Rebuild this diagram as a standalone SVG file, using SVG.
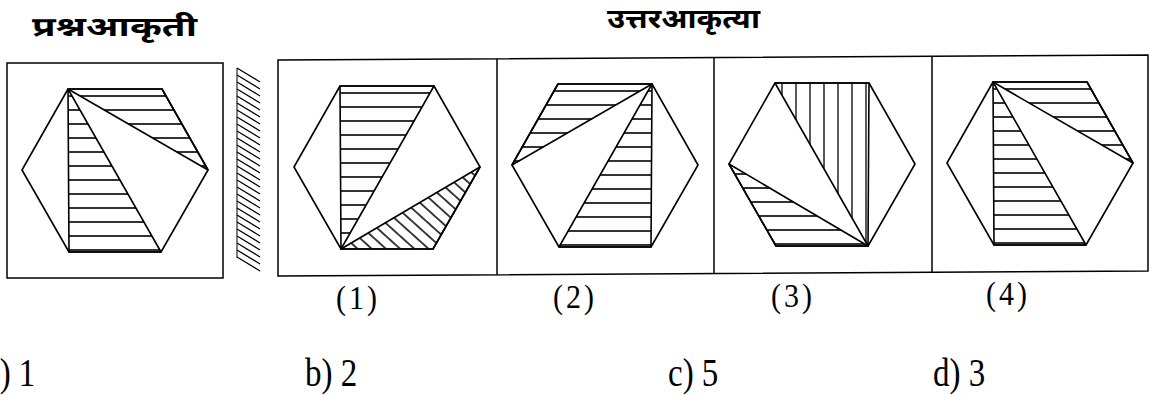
<svg xmlns="http://www.w3.org/2000/svg" width="1151" height="395" viewBox="0 0 1151 395">
<style>
.frame{fill:none;stroke:#000;stroke-width:1.5}
.hex{fill:none;stroke:#000;stroke-width:1.6;stroke-linejoin:round}
.tri{stroke:#000;stroke-width:1.6;stroke-linejoin:round}
.h{fill:url(#hH)}
.v{fill:url(#hV)}
.d{fill:url(#hD)}
.title{font-family:"Noto Sans Devanagari","Lohit Devanagari","Noto Sans",sans-serif;font-weight:bold;font-size:27px;fill:#000}
.num{font-family:"Liberation Serif","Times New Roman",serif;font-size:30px;letter-spacing:3px;fill:#000}
.ans{font-family:"Liberation Serif","Times New Roman",serif;font-size:33px;fill:#000}
</style>
<defs>
<pattern id="hH" patternUnits="userSpaceOnUse" width="20" height="14"><line x1="0" y1="7" x2="20" y2="7" stroke="#000" stroke-width="1.6"/></pattern>
<pattern id="hV" patternUnits="userSpaceOnUse" width="14" height="20"><line x1="7" y1="0" x2="7" y2="20" stroke="#000" stroke-width="1.3"/></pattern>
<pattern id="hD" patternUnits="userSpaceOnUse" width="20" height="9.5" patternTransform="rotate(42)"><line x1="0" y1="4.75" x2="20" y2="4.75" stroke="#000" stroke-width="1.5"/></pattern>
<polygon id="hexShape" class="hex" points="0,0 94,0 140,81 93,163 1,163 -46,81"/>
</defs>

<g id="titles">
<text class="title" x="32" y="36" textLength="165" lengthAdjust="spacingAndGlyphs">प्रश्नआकृती</text>
<text class="title" x="607" y="28" textLength="153" lengthAdjust="spacingAndGlyphs">उत्तरआकृत्या</text>
</g>

<g id="question">
<rect class="frame" x="7" y="63" width="216" height="215"/>
<g transform="translate(68,89)">
<polygon class="tri h" points="0,0 1,163 93,163"/>
<polygon class="tri h" points="0,0 94,0 140,81"/>
<use href="#hexShape"/>
</g>
</g>

<g id="mirror" stroke="#000" stroke-width="1.3" fill="none">
<line x1="237" y1="68" x2="237" y2="258" stroke-width="1"/>
<path d="M237 68l23 14M237 75l23 14M237 82l23 14M237 89l23 14M237 96l23 14M237 103l23 14M237 110l23 14M237 117l23 14M237 124l23 14M237 131l23 14M237 138l23 14M237 145l23 14M237 152l23 14M237 159l23 14M237 166l23 14M237 173l23 14M237 180l23 14M237 187l23 14M237 194l23 14M237 201l23 14M237 208l23 14M237 215l23 14M237 222l23 14M237 229l23 14M237 236l23 14M237 243l23 14M237 250l23 14M237 257l23 14"/>
</g>

<g id="answer-frame">
<path class="frame" d="M278 60L1148 55L1148 271L278 276Z"/>
<path class="frame" d="M497 58.7L497 274.8M714 57.5L714 273.5M932 56.2L932 272.2"/>
</g>

<g id="option1">
<g transform="translate(340,86)">
<polygon class="tri h" points="0,0 1,163 94,0"/>
<polygon class="tri d" points="1,163 140,81 93,163"/>
<use href="#hexShape"/>
</g>
<text class="num" text-anchor="middle" transform="translate(358,309) scale(1,1.15)">(1)</text>
</g>

<g id="option2">
<g transform="translate(558,84)">
<polygon class="tri h" points="94,0 0,0 -46,81"/>
<polygon class="tri h" points="94,0 93,163 1,163"/>
<use href="#hexShape"/>
</g>
<text class="num" text-anchor="middle" transform="translate(575,308) scale(1,1.15)">(2)</text>
</g>

<g id="option3">
<g transform="translate(775,83)">
<polygon class="tri v" points="0,0 94,0 93,163"/>
<polygon class="tri h" points="-46,81 93,163 1,163"/>
<use href="#hexShape"/>
</g>
<text class="num" text-anchor="middle" transform="translate(793,307) scale(1,1.15)">(3)</text>
</g>

<g id="option4">
<g transform="translate(993,82)">
<polygon class="tri h" points="0,0 1,163 93,163"/>
<polygon class="tri h" points="0,0 94,0 140,81"/>
<use href="#hexShape"/>
</g>
<text class="num" text-anchor="middle" transform="translate(1008,305) scale(1,1.15)">(4)</text>
</g>

<g id="choices">
<text class="ans" transform="translate(-15,386) scale(1,1.22)">a) 1</text>
<text class="ans" transform="translate(305,386) scale(1,1.22)">b) 2</text>
<text class="ans" transform="translate(668,386) scale(1,1.22)">c) 5</text>
<text class="ans" transform="translate(933,386) scale(1,1.22)">d) 3</text>
</g>
</svg>
